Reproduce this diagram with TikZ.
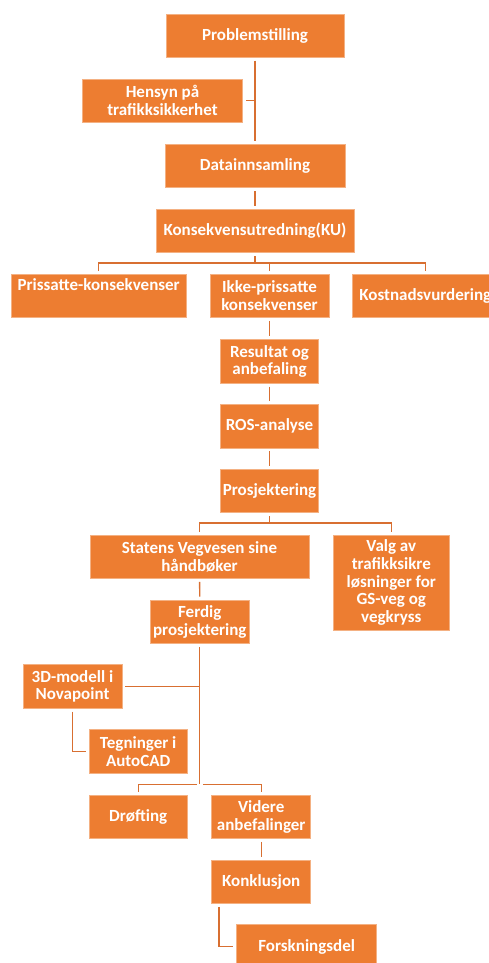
\documentclass[tikz,border=0pt]{standalone}
\usepackage{fontspec}
\setmainfont{Carlito}
\usetikzlibrary{positioning}
\definecolor{boxfill}{HTML}{ED7D31}
\definecolor{boxedge}{HTML}{F4B183}
\definecolor{linkc}{HTML}{D86F31}
\tikzset{
    flow diagram/.style = {x=1pt, y=-1pt},
    box/.style          = {fill=boxfill, draw=boxedge, line width=0.6pt,
                           text=white, align=center, inner sep=0pt,
                           minimum height=43.5pt,
                           font=\fontsize{17}{17.6}\selectfont\bfseries},
    link/.style         = {draw=linkc, line width=1.3pt},
    gap/.style          = {shorten <=3pt, shorten >=3pt}
}

\begin{document}
\begin{tikzpicture}[flow diagram]
\useasboundingbox (0,0) rectangle (489,963);

% ================= Upper part =================
\node[box, minimum width=178pt] (Prob) at (255,35.7) {Problemstilling};
\node[box, minimum width=160.4pt] (Hensyn) at (162.5,100.7) {Hensyn på\\trafikksikkerhet};
\node[box, minimum width=180.3pt] (Data) at (255,166) {Datainnsamling};
\node[box, minimum width=197.7pt] (KU) at (255,231) {Konsekvensutredning(KU)};

% ================= Consequences =================
\node[box, minimum width=175.3pt] (Pris) at (98.7,295.7) {Prissatte-konsekvenser\\\strut};
\node[box, minimum width=119pt] (Ikke) at (269.5,295.7) {Ikke-prissatte\\konsekvenser};
\node[box, minimum width=146pt] (Kost) at (425.3,295.7) {Kostnadsvurdering};

% ================= Middle chain =================
\node[box, minimum width=98.4pt, minimum height=44pt] (Res) at (269.5,361.3) {Resultat og\\anbefaling};
\node[box, minimum width=98.4pt] (ROS) at (269.5,426.3) {ROS-analyse};
\node[box, minimum width=98.4pt] (Pros) at (269.5,491) {Prosjektering};

% ================= Design =================
\node[box, minimum width=219pt] (SVV) at (199.5,556.7) {Statens Vegvesen sine\\håndbøker};
\node[box, minimum width=116pt, minimum height=95pt] (Valg) at (391.3,582.5)
    {Valg av\\trafikksikre\\løsninger for\\GS-veg og\\vegkryss};
\node[box, minimum width=99pt] (Ferdig) at (199.8,621.7) {Ferdig\\prosjektering};
\node[box, minimum width=99pt] (Modell) at (72.5,686.5) {3D-modell i\\Novapoint};
\node[box, minimum width=98.3pt] (Tegn) at (138.2,751.5) {Tegninger i\\AutoCAD};

% ================= Conclusion =================
\node[box, minimum width=98.3pt] (Drof) at (138.2,816.8) {Drøfting};
\node[box, minimum width=99pt] (Videre) at (261.2,816.8) {Videre\\anbefalinger};
\node[box, minimum width=99pt] (Konk) at (261.2,881.7) {Konklusjon};
\node[box, minimum width=140pt] (Forsk) at (306.7,946.5) {Forskningsdel};

% ================= Connectors =================
\draw[link, gap] (Prob) -- (Data);
\draw[link, shorten <=3pt] (Hensyn.east) -- (Hensyn.east -| Prob.south);
\draw[link, gap] (Data) -- (KU);

\draw[link, gap] (KU.south) -- ++(0,10) -| (Pris.north);
\draw[link, gap] (KU.south) -- ++(0,10) -| (Ikke.north);
\draw[link, gap] (KU.south) -- ++(0,10) -| (Kost.north);

\draw[link, gap] (Ikke) -- (Res);
\draw[link, gap] (Res) -- (ROS);
\draw[link, gap] (ROS) -- (Pros);

\draw[link, gap] (Pros.south) -- ++(0,10) -| (SVV.north);
\draw[link, gap] (Pros.south) -- ++(0,10) -| (Valg.north);
\draw[link, gap] (SVV) -- (Ferdig);

\draw[link, shorten <=3pt] (Ferdig.south) -- ++(0,140.7) coordinate (fBus);
\draw[link, shorten <=3pt] (Modell.east) -- (Modell.east -| Ferdig.south);
\draw[link, gap] (Modell.south) |- (Tegn.west);
\draw[link, gap] (fBus) -| (Drof.north);
\draw[link, gap] (fBus) -| (Videre.north);

\draw[link, gap] (Videre) -- (Konk);
\draw[link, gap] ([xshift=7.6pt]Konk.south west) |- (Forsk.west);

\end{tikzpicture}
\end{document}
